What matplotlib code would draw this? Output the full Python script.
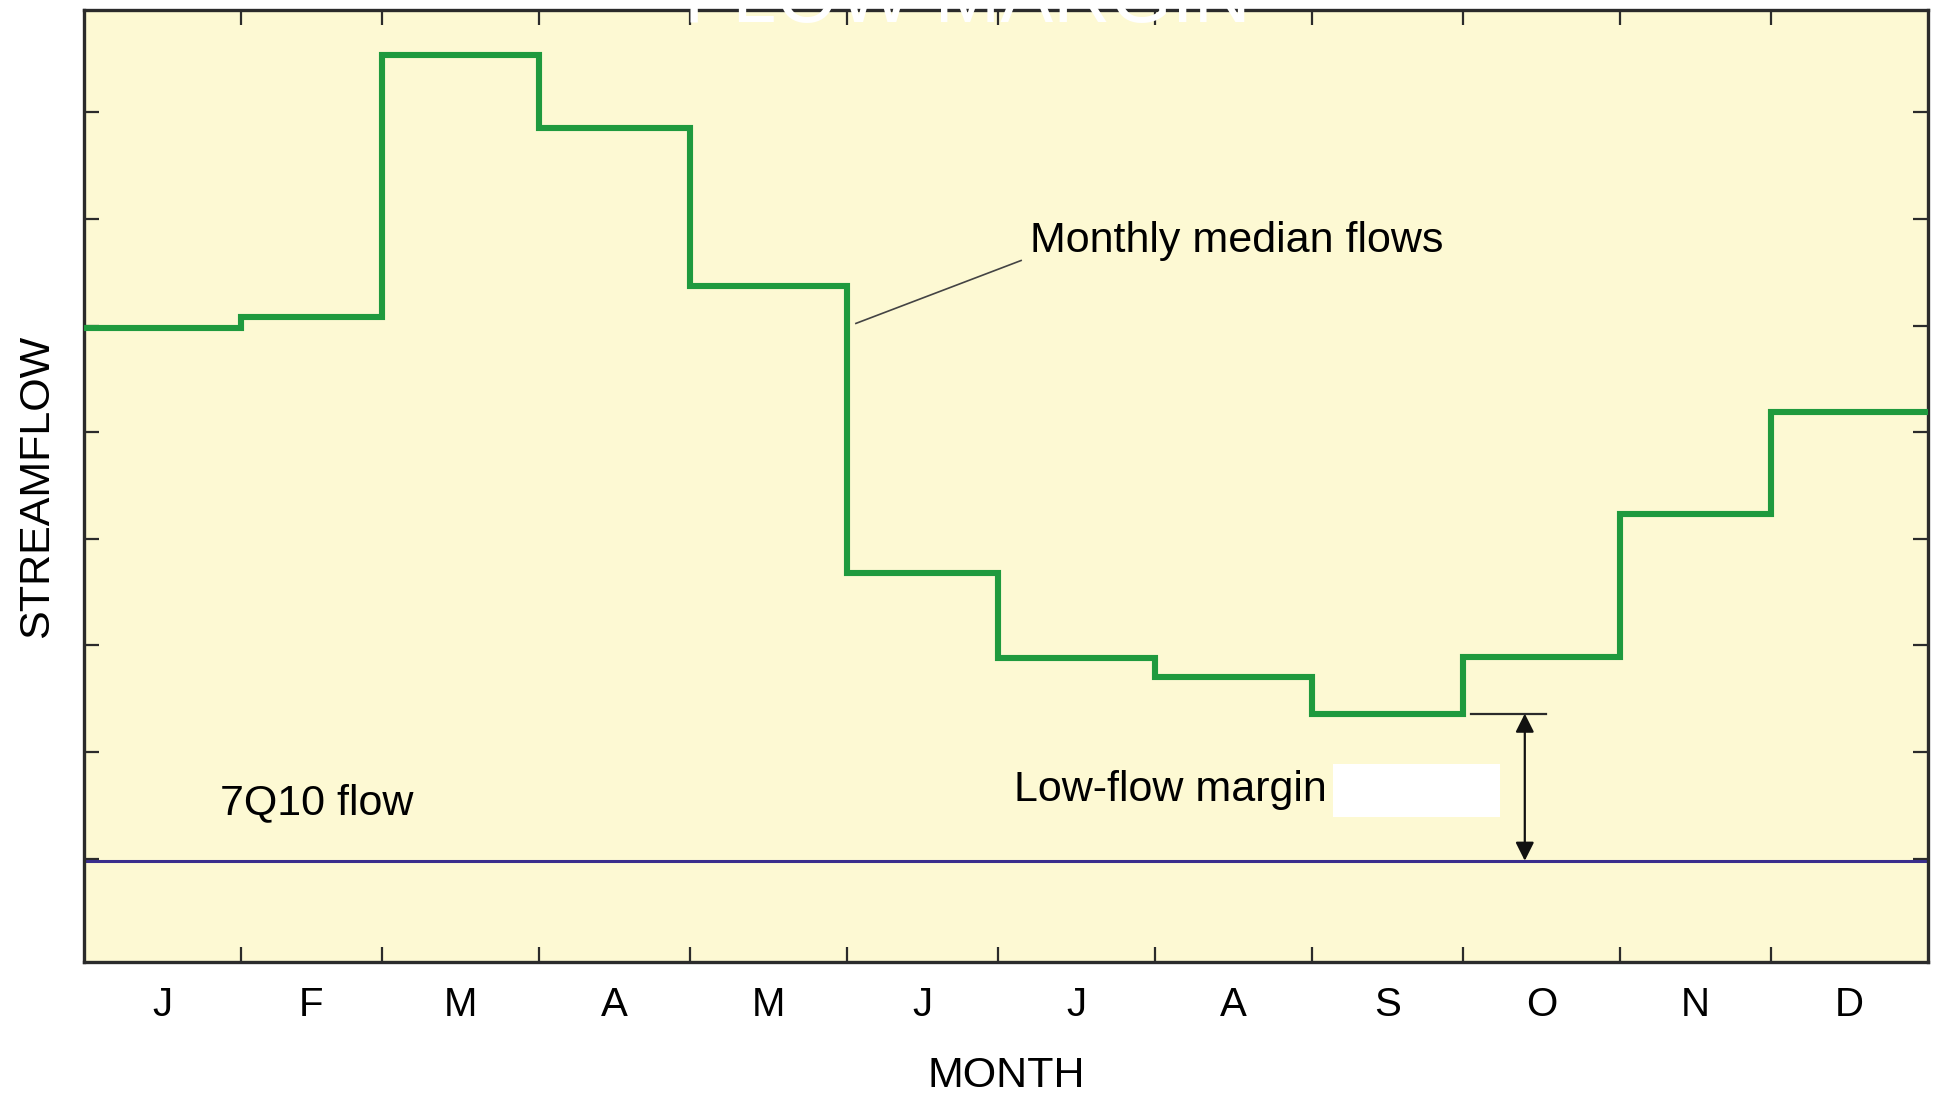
import numpy as np
import matplotlib.pyplot as plt
from matplotlib.patches import Rectangle

plt.rcParams["font.family"] = ["Liberation Sans", "DejaVu Sans"]

# month labels and days per month (x axis is day of year)
months = ["J", "F", "M", "A", "M", "J", "J", "A", "S", "O", "N", "D"]
days_in_month = [31, 28, 31, 30, 31, 30, 31, 31, 30, 31, 30, 31]

# monthly median streamflow (relative units)
median_flow = [5.98, 6.08, 8.54, 7.85, 6.37, 3.68, 2.88, 2.70, 2.36, 2.89, 4.23, 5.19]

# 7Q10 flow level
q7_10 = 0.98

BG = "#FDF9D3"
GREEN = "#1F9A3E"
BLUE = "#3A2E8C"
DARK = "#2b2b2b"

edges = np.concatenate([[0], np.cumsum(days_in_month)])
mids = (edges[:-1] + edges[1:]) / 2

fig = plt.figure(figsize=(19.39, 10.93), dpi=100)
ax = fig.add_axes([0.0433, 0.1198, 0.9510, 0.8711])
ax.set_facecolor(BG)

# monthly median flows as steps
ax.stairs(median_flow, edges, color=GREEN, lw=4.4, baseline=None, zorder=3)

# 7Q10 line
ax.axhline(q7_10, color=BLUE, lw=2.2, zorder=2)

# low-flow margin: bar at minimum median, double arrow down to 7Q10
low = min(median_flow)
ax.plot([274.6, 289.3], [low, low], color=DARK, lw=1.6, zorder=2)
ax.annotate("", xy=(285.2, q7_10), xytext=(285.2, low),
            arrowprops=dict(arrowstyle="<|-|>", color="#111111", lw=1.6,
                            mutation_scale=28, shrinkA=0, shrinkB=0))
ax.add_patch(Rectangle((247.2, 1.389), 33.1, 0.497, facecolor="white",
                       edgecolor="none", zorder=4))

# labels
ax.text(187.3, 6.79, "Monthly median flows", fontsize=31, va="center", ha="left")
ax.plot([185.5, 152.8], [6.61, 6.02], color="#444444", lw=1.2, zorder=2)
ax.text(26.9, 1.52, "7Q10 flow", fontsize=31, va="center", ha="left")
ax.text(184.1, 1.64, "Low-flow margin", fontsize=31, va="center", ha="left")

ax.set_xlim(0, 365)
ax.set_ylim(0.03, 8.96)

ax.set_xticks(edges[1:-1])
ax.set_xticklabels([])
ax.set_xticks(mids, minor=True)
ax.set_xticklabels(months, minor=True, fontsize=29)
ax.set_yticks(range(1, 9))
ax.set_yticklabels([])
ax.tick_params(axis="both", which="major", direction="in", length=11, width=1.6,
               color=DARK, top=True, right=True)
ax.tick_params(axis="x", which="minor", length=0, pad=17)

for s in ax.spines.values():
    s.set_linewidth(2.4)
    s.set_color(DARK)

ax.set_xlabel("MONTH", fontsize=31, labelpad=23)
ax.set_ylabel("STREAMFLOW", fontsize=31, labelpad=16)

# white heading cut off at the top edge
fig.text(0.3528, 0.98, "FLOW MARGIN", color="white", fontsize=57,
         ha="left", va="baseline", zorder=10)

fig.savefig("out.png", dpi=100)
